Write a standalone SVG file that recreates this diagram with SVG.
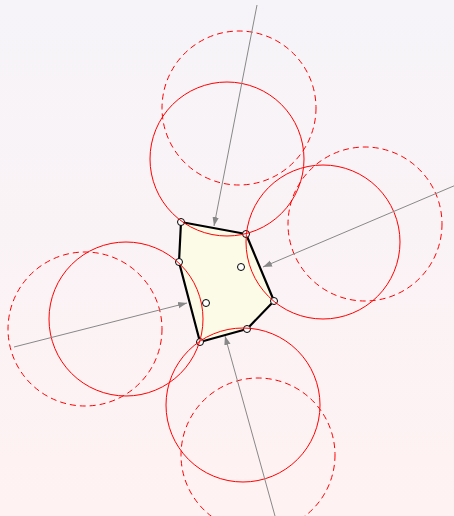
<svg xmlns="http://www.w3.org/2000/svg" width="454" height="516" viewBox="0 0 454 516">
<defs>
<linearGradient id="bg" x1="0" y1="0" x2="0" y2="1">
<stop offset="0" stop-color="#f6f4f9"/>
<stop offset="1" stop-color="#fff2f2"/>
</linearGradient>
<marker id="ah" markerWidth="10" markerHeight="8" refX="9" refY="4" orient="auto" markerUnits="userSpaceOnUse">
<path d="M0,0.8 L9,4 L0,7.2 Z" fill="#888"/>
</marker>
<style>
.c{fill:none;stroke:#f00;stroke-width:1}
.d{fill:none;stroke:#f00;stroke-width:1;stroke-dasharray:6,4}
.ln{stroke:#888;stroke-width:1;fill:none;marker-end:url(#ah)}
.pt{fill:#fff;stroke:#000;stroke-width:1}
</style>
</defs>
<rect width="454" height="516" fill="url(#bg)"/>
<g id="polygon">
<polygon points="181,222 246,234 274,301 247,329 200,342 179,262" fill="#fcfbe8" stroke="#000" stroke-width="2.2" stroke-linejoin="round"/>
</g>
<g id="points">
<circle class="pt" cx="181" cy="222" r="3.5"/>
<circle class="pt" cx="246" cy="234" r="3.5"/>
<circle class="pt" cx="274" cy="301" r="3.5"/>
<circle class="pt" cx="247" cy="329" r="3.5"/>
<circle class="pt" cx="200" cy="342" r="3.5"/>
<circle class="pt" cx="179" cy="262" r="3.5"/>
<circle class="pt" cx="241" cy="267" r="3.5"/>
<circle class="pt" cx="206" cy="303" r="3.5"/>
</g>
<g id="circles">
<circle class="c" cx="227" cy="159" r="77"/>
<circle class="d" cx="239" cy="108" r="77"/>
<circle class="c" cx="323" cy="242" r="77"/>
<circle class="d" cx="365" cy="224" r="77"/>
<circle class="c" cx="126" cy="319" r="77"/>
<circle class="d" cx="85" cy="329" r="77"/>
<circle class="c" cx="243" cy="405" r="77"/>
<circle class="d" cx="258" cy="455" r="77"/>
</g>
<g id="connectors">
<line class="ln" x1="257" y1="5" x2="214" y2="226"/>
<line class="ln" x1="456" y1="185" x2="263" y2="267"/>
<line class="ln" x1="14" y1="347" x2="187" y2="303"/>
<line class="ln" x1="275" y1="516" x2="225" y2="336"/>
</g>
</svg>
